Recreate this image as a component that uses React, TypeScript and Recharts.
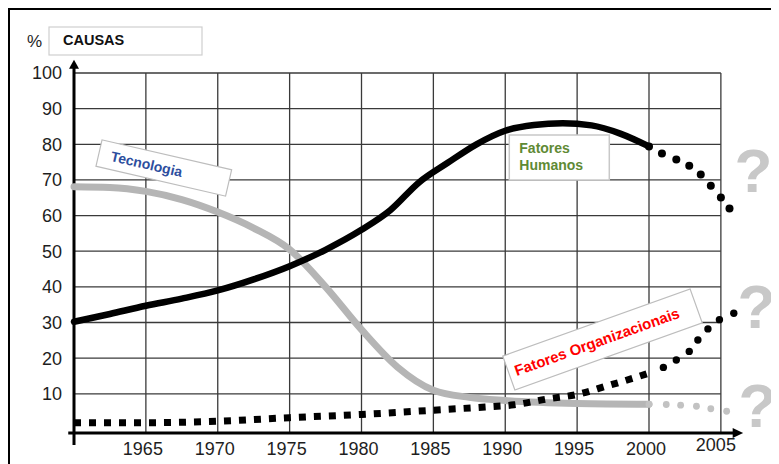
import React from "react";
import { ComposedChart, Line, XAxis, YAxis, ReferenceLine, ReferenceDot } from "recharts";

const FONT = '"Liberation Sans", Arial, sans-serif';

// axis ticks
const xTicks = [1965, 1970, 1975, 1980, 1985, 1990, 1995, 2000, 2005];
const yTicks = [10, 20, 30, 40, 50, 60, 70, 80, 90, 100];

// Fatores Humanos (solid black) + projection dots
const humanYears = [1960, 1962.5, 1965, 1967.5, 1970, 1972.5, 1975, 1977.5, 1980, 1982, 1984, 1986, 1988, 1990, 1992, 1994, 1996, 1998, 2000];
const humanValues = [30.2, 32.4, 34.7, 36.7, 39, 42.1, 45.8, 50.4, 56, 61.5, 69.3, 74.8, 80, 83.8, 85.4, 85.9, 85.3, 83, 79.4];
const humanProjYears = [2000, 2000.9, 2001.9, 2002.8, 2003.6, 2004.3, 2005.0, 2005.6];
const humanProjValues = [79.4, 77.4, 75.7, 74.0, 71.5, 68.4, 65.1, 62.0];

// Tecnologia (grey) + projection dots
const techYears = [1960, 1962.5, 1965, 1967.5, 1970, 1972.5, 1975, 1977.5, 1980, 1982.5, 1985, 1987.5, 1990, 1995, 2000];
const techValues = [68.1, 67.9, 66.8, 64.5, 61, 56.5, 50.5, 40, 28, 17.5, 11, 9, 8.1, 7.3, 7.1];
const techProjYears = [2000, 2001.2, 2002.2, 2003.3, 2004.3, 2005.4];
const techProjValues = [7.1, 7.0, 6.8, 6.5, 5.8, 5.1];

// Fatores Organizacionais (square dashes) + projection dots
const orgYears = [1960, 1965, 1970, 1975, 1980, 1985, 1988.6, 1990.6, 1993, 1995, 1997, 1999, 2000];
const orgValues = [1.9, 1.9, 2.3, 3.3, 4.2, 5.4, 6.3, 6.9, 8.6, 9.8, 12.1, 14.5, 15.8];
const orgProjYears = [2001, 2001.9, 2002.8, 2003.4, 2004.1, 2004.9, 2005.9];
const orgProjValues = [17.4, 19.5, 21.9, 25.1, 28.2, 30.8, 32.6];

const toRows = (xs: number[], ys: number[]) => xs.map((year, i) => ({ year, v: ys[i] }));

const ArrowRight = ({ cx, cy }: any) => (
  <polygon points={`${cx},${cy} ${cx - 10.5},${cy - 5} ${cx - 10.5},${cy + 5}`} fill="#000" />
);
const ArrowUp = ({ cx, cy }: any) => (
  <polygon points={`${cx},${cy} ${cx - 5},${cy + 9} ${cx + 5},${cy + 9}`} fill="#000" />
);

const XTick = ({ x, y, payload }: any) => {
  const last = payload.value === 2005;
  return (
    <text x={x + (last ? -5 : -3)} y={y + (last ? -3 : 1)} dy="0.71em" textAnchor="middle"
      fill="#1e1e1e" fontSize={18} fontFamily={FONT}>
      {payload.value}
    </text>
  );
};

export default function App() {
  const grid = { stroke: "#3a3a3a", strokeWidth: 1.3, ifOverflow: "visible" as const };
  return (
    <div style={{ position: "relative", width: 771, height: 456 }}>
      <ComposedChart width={771} height={456} margin={{ top: 65, right: 15, bottom: 0, left: 0 }}>
        <XAxis type="number" dataKey="year" domain={[1960, 2008]} ticks={xTicks} interval={0}
          height={31} axisLine={false} tickLine={false} tick={XTick} />
        <YAxis type="number" domain={[-1, 100]} ticks={yTicks} interval={0} width={66}
          axisLine={false} tickLine={false} tickMargin={6}
          tick={{ fill: "#1e1e1e", fontSize: 18, fontFamily: FONT }} />

        {yTicks.map(v => (
          <ReferenceLine key={"h" + v} segment={[{ x: 1960, y: v }, { x: 2005, y: v }]} {...grid} />
        ))}
        {xTicks.map(t => (
          <ReferenceLine key={"v" + t} segment={[{ x: t, y: -1 }, { x: t, y: 100 }]} {...grid} />
        ))}

        <ReferenceLine segment={[{ x: 1959.6, y: -1 }, { x: 2005.9, y: -1 }]} stroke="#000" strokeWidth={3} ifOverflow="visible" />
        <ReferenceLine segment={[{ x: 1960, y: -4.4 }, { x: 1960, y: 101.5 }]} stroke="#000" strokeWidth={3} ifOverflow="visible" />
        <ReferenceDot x={2006.55} y={-1} shape={ArrowRight} ifOverflow="visible" />
        <ReferenceDot x={1960} y={103.7} shape={ArrowUp} ifOverflow="visible" />

        <Line data={toRows(techYears, techValues)} dataKey="v" type="monotone" stroke="#b5b5b5"
          strokeWidth={7} strokeLinecap="round" dot={false} activeDot={false} isAnimationActive={false} />
        <Line data={toRows(techProjYears, techProjValues)} dataKey="v" stroke="none"
          dot={{ r: 3.4, fill: "#c2c2c2", stroke: "none" }} activeDot={false} isAnimationActive={false} />

        <Line data={toRows(orgYears, orgValues)} dataKey="v" type="monotone" stroke="#000"
          strokeWidth={7} strokeDasharray="7 8" dot={false} activeDot={false} isAnimationActive={false} />
        <Line data={toRows(orgProjYears, orgProjValues)} dataKey="v" stroke="none"
          dot={{ r: 3.7, fill: "#000", stroke: "none" }} activeDot={false} isAnimationActive={false} />

        <Line data={toRows(humanYears, humanValues)} dataKey="v" type="monotone" stroke="#000"
          strokeWidth={6.5} strokeLinecap="round" strokeLinejoin="round" dot={false} activeDot={false} isAnimationActive={false} />
        <Line data={toRows(humanProjYears, humanProjValues)} dataKey="v" stroke="none"
          dot={{ r: 4, fill: "#000", stroke: "none" }} activeDot={false} isAnimationActive={false} />
      </ComposedChart>

      <svg width={771} height={456} style={{ position: "absolute", left: 0, top: 0, overflow: "visible", pointerEvents: "none" }}
        fontFamily={FONT}>
        <line x1={-1} y1={0.5} x2={771} y2={0.5} stroke="#000" strokeWidth={3} />
        <line x1={0.5} y1={-1} x2={0.5} y2={456} stroke="#000" strokeWidth={3} />

        <text x={19} y={38.5} fontSize={17} fill="#1e1e1e">%</text>
        <rect x={41} y={19} width={153} height={28} fill="#fff" stroke="#cfcfcf" strokeWidth={1.2} />
        <text x={55} y={37} fontSize={14.5} fontWeight="bold" fill="#111">CAUSAS</text>

        <g transform="translate(155.8,160) rotate(13)">
          <rect x={-66.5} y={-13.5} width={133} height={27} fill="#fff" stroke="#bdbdbd" strokeWidth={1.2} />
          <text x={-54} y={5} fontSize={14} fontWeight="bold" fill="#2d4e9e">Tecnologia</text>
        </g>

        <g>
          <rect x={501.3} y={127} width={100} height={45} fill="#fff" stroke="#c8c8c8" strokeWidth={1.5} />
          <text x={511.3} y={145.3} fontSize={14} fontWeight="bold" fill="#5f8a35">Fatores</text>
          <text x={511.3} y={162} fontSize={14} fontWeight="bold" fill="#5f8a35">Humanos</text>
        </g>

        <g transform="translate(594.5,331.5) rotate(-19.7)">
          <rect x={-99.5} y={-18} width={199} height={36} fill="#fff" stroke="#bdbdbd" strokeWidth={1.2} />
          <text x={-6} y={5.5} textAnchor="middle" fontSize={15} fontWeight="bold" fill="#ff0000">Fatores Organizacionais</text>
        </g>

        <text x={745.5} y={184} textAnchor="middle" fontSize={62} fontWeight="bold" fill="#c8c8c8">?</text>
        <text x={748.5} y={320} textAnchor="middle" fontSize={62} fontWeight="bold" fill="#c8c8c8">?</text>
        <text x={749.5} y={419} textAnchor="middle" fontSize={62} fontWeight="bold" fill="#c8c8c8">?</text>
      </svg>
    </div>
  );
}
